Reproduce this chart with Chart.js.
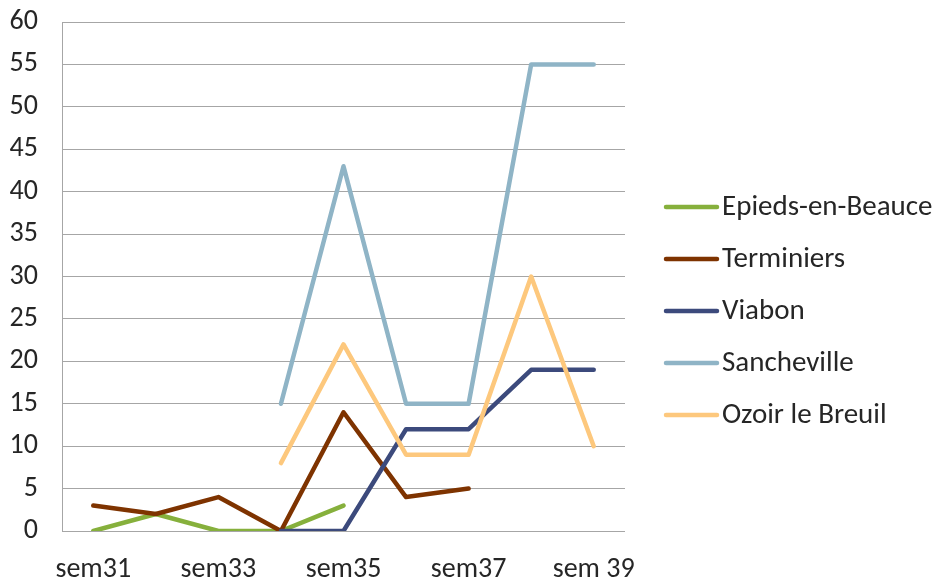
<!DOCTYPE html>
<html>
<head>
<meta charset="utf-8">
<script src="https://cdn.jsdelivr.net/npm/chart.js@4/dist/chart.umd.min.js"></script>
<style>
  html, body { margin: 0; padding: 0; background: #fff; }
  #wrap { width: 938px; height: 581px; }
</style>
</head>
<body>
<div id="wrap"><canvas id="chart" width="938" height="581"></canvas></div>
<script>
const weeks = ['sem31', 'sem32', 'sem33', 'sem34', 'sem35', 'sem36', 'sem37', 'sem38', 'sem 39']

const epieds      = [0, 2, 0, 0, 3, null, null, null, null]
const terminiers  = [3, 2, 4, 0, 14, 4, 5, null, null]
const viabon      = [null, null, null, 0, 0, 12, 12, 19, 19]
const sancheville = [null, null, null, 15, 43, 15, 15, 55, 55]
const ozoir       = [null, null, null, 8, 22, 9, 9, 30, 10]

const seriesNames = ['Epieds-en-Beauce', 'Terminiers', 'Viabon', 'Sancheville', 'Ozoir le Breuil']
const seriesData = [epieds, terminiers, viabon, sancheville, ozoir]
const seriesColors = ['#86b03c', '#7e3300', '#3c4a7c', '#8fb4c6', '#fdc87d']

const FONT = 'Carlito, Calibri, Lato, sans-serif'
const TEXT = '#262626'
const GRID = '#a6a6a6'

// legend drawn by hand, to the right of the plot, like the Excel original
const sideLegend = {
  id: 'sideLegend',
  afterDraw(chart) {
    const ctx = chart.ctx
    ctx.save()
    ctx.font = '29px ' + FONT
    ctx.textBaseline = 'middle'
    ctx.textAlign = 'left'
    chart.data.datasets.forEach((ds, i) => {
      const y = 207 + i * 52
      ctx.strokeStyle = ds.borderColor
      ctx.lineWidth = 4.5
      ctx.lineCap = 'round'
      ctx.beginPath()
      ctx.moveTo(666, y)
      ctx.lineTo(717, y)
      ctx.stroke()
      ctx.fillStyle = TEXT
      ctx.fillText(ds.label, 722, y + 1)
    })
    ctx.restore()
  }
}

const datasets = seriesNames.map((name, i) => ({
  label: name,
  data: seriesData[i],
  borderColor: seriesColors[i],
  backgroundColor: seriesColors[i],
  borderWidth: 4.5,
  pointRadius: 0,
  pointHoverRadius: 0,
  tension: 0,
  spanGaps: false,
  borderJoinStyle: 'round',
  borderCapStyle: 'round',
  // later series on top, as in Excel
  order: seriesNames.length - i
}))

new Chart(document.getElementById('chart'), {
  type: 'line',
  data: { labels: weeks, datasets: datasets },
  options: {
    responsive: false,
    animation: false,
    events: [],
    layout: { padding: { top: 22, right: 313, bottom: 0, left: 0 } },
    plugins: {
      legend: { display: false },
      tooltip: { enabled: false }
    },
    scales: {
      x: {
        offset: true,
        grid: { display: false, drawTicks: false },
        border: { display: false },
        afterFit(scale) {
          scale.height = 50
          scale.paddingLeft = 0
          scale.paddingRight = 0
        },
        ticks: {
          autoSkip: false,
          maxRotation: 0,
          padding: 22,
          color: TEXT,
          font: { size: 28, family: FONT },
          callback(value, index) {
            return index % 2 === 0 ? weeks[index] : ''
          }
        }
      },
      y: {
        min: 0,
        max: 60,
        afterFit(scale) {
          scale.width = 62
          scale.paddingTop = 0
          scale.paddingBottom = 0
        },
        grid: { color: GRID, lineWidth: 1, drawTicks: false },
        border: { display: true, color: GRID, width: 1 },
        ticks: {
          stepSize: 5,
          padding: 24,
          color: TEXT,
          font: { size: 28, family: FONT }
        }
      }
    }
  },
  plugins: [sideLegend]
})
</script>
</body>
</html>
